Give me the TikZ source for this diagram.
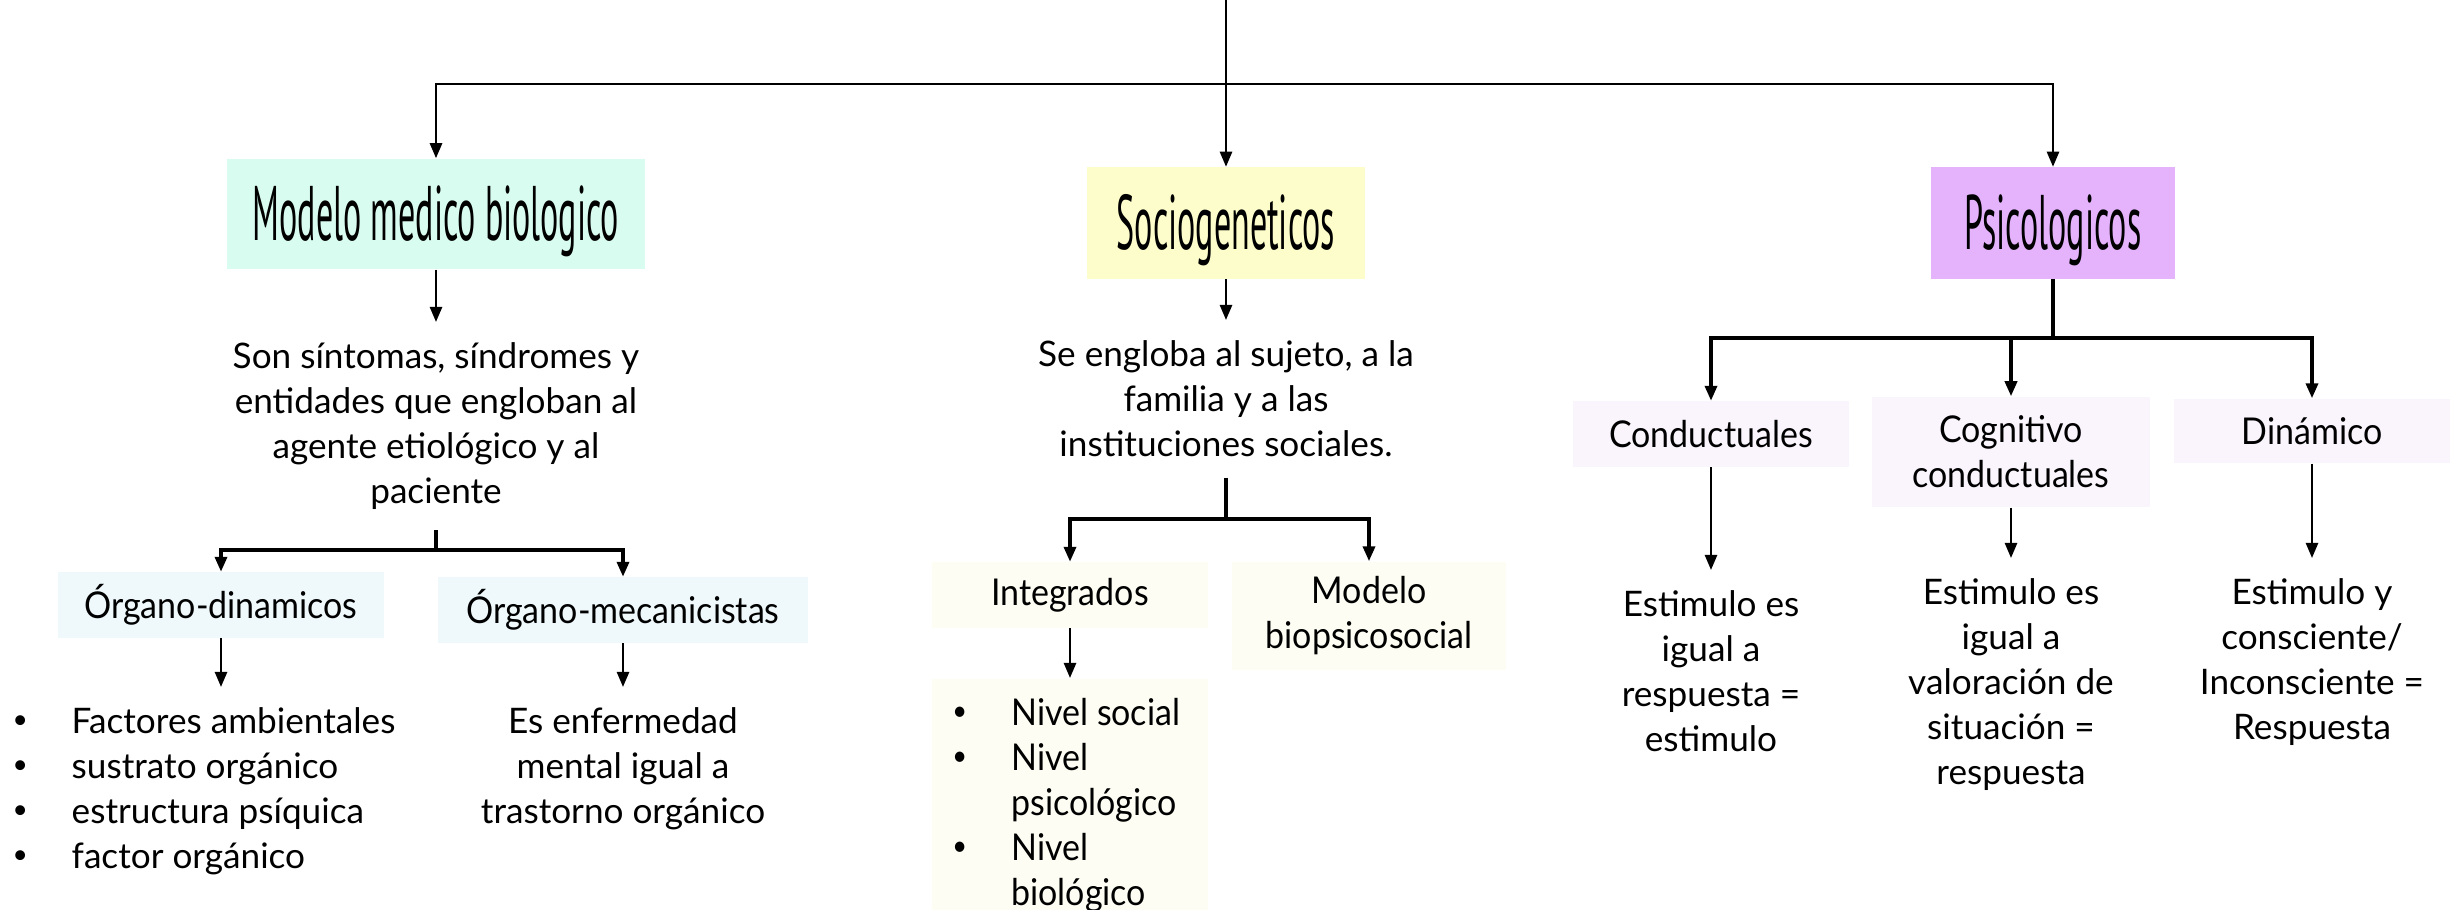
\documentclass[tikz,border=0pt]{standalone}
\usepackage{fontspec}
\setmainfont{Lato}
\newfontfamily\boxfont{Lato}[FakeStretch=0.92]
\newfontfamily\titlefont[FakeStretch=0.44]{PT Sans}
\usetikzlibrary{arrows.meta}
\definecolor{mint}{HTML}{D9FCF0}
\definecolor{lemon}{HTML}{FDFDCB}
\definecolor{lilac}{HTML}{E4B3FC}
\definecolor{ice}{HTML}{EFF9FB}
\definecolor{cream}{HTML}{FDFDF3}
\definecolor{blush}{HTML}{FAF4FD}
\newcommand{\bulletmark}{\makebox[0.51cm][l]{\raisebox{0.3ex}{\scalebox{0.75}{\textbullet}}}}

\begin{document}
\begin{tikzpicture}[x=0.01cm,y=-0.01cm,
  box/.style={inner sep=0pt,align=center,font=\boxfont\fontsize{10.5}{12.8}\selectfont},
  head/.style={inner sep=0pt,text height=0.72cm,text depth=0.2cm,font=\titlefont\fontsize{22}{24}\selectfont},
  txt/.style={anchor=north,align=center,inner xsep=0pt,inner ysep=0.2cm,font=\fontsize{10}{12.8}\selectfont},
  arr/.style={line width=0.7pt,-{Triangle[length=0.15cm,width=0.12cm]}},
  bar/.style={line width=1pt}]
\useasboundingbox (0,0) rectangle (2450,910);

\node[head,fill=mint,minimum width=4.18cm,minimum height=1.1cm] (mmb) at (436,214) {Modelo\ medico\ biologico};
\node[head,fill=lemon,minimum width=2.77cm,minimum height=1.11cm] (soc) at (1226,223) {Sociogeneticos};
\node[head,fill=lilac,minimum width=2.44cm,minimum height=1.11cm] (psi) at (2053,223) {Psicologicos};
\coordinate (top) at (1226,0);
\coordinate (hub) at (1226,84);
\draw[arr] (top) -- (soc);
\draw[arr] (hub) -| (mmb);
\draw[arr] (hub) -| (psi);

\node[txt] (mmbtxt) at (436,322) {Son síntomas, síndromes y\\entidades que engloban al\\agente etiológico y al\\paciente};
\draw[arr] (mmb) -- (mmbtxt);
\node[box,fill=ice,minimum width=3.25cm,minimum height=0.65cm] (orgdin) at (221,605) {Órgano-dinamicos};
\node[box,fill=ice,minimum width=3.7cm,minimum height=0.65cm] (orgmec) at (623,610) {Órgano-mecanicistas};
\coordinate (mmbhub) at (436,550);
\draw[bar] (mmbtxt) -- (mmbhub);
\draw[arr,bar] (mmbhub) -| (orgdin);
\draw[arr,bar] (mmbhub) -| (orgmec);
\node[txt,anchor=north west,align=left] (dinlist) at (12,687) {\makebox[0.59cm][l]{\bulletmark}Factores ambientales\\\makebox[0.59cm][l]{\bulletmark}sustrato orgánico\\\makebox[0.59cm][l]{\bulletmark}estructura psíquica\\\makebox[0.59cm][l]{\bulletmark}factor orgánico};
\draw[arr] (orgdin) -- (orgdin |- dinlist.north);
\node[txt] (mectxt) at (623,687) {Es enfermedad\\mental igual a\\trastorno orgánico};
\draw[arr] (orgmec) -- (mectxt);

\node[txt] (soctxt) at (1226,320) {Se engloba al sujeto, a la\\familia y a las\\instituciones sociales.};
\draw[arr] (soc) -- (soctxt);
\coordinate (sochub) at (1226,519);
\draw[bar] (soctxt) -- (sochub);
\node[box,fill=cream,minimum width=2.75cm,minimum height=0.65cm] (integ) at (1070,595) {Integrados};
\node[box,fill=cream,minimum width=2.74cm,minimum height=1.08cm] (biops) at (1369,616) {Modelo\\biopsicosocial};
\draw[arr,bar] (sochub) -| (integ);
\draw[arr,bar] (sochub) -| (biops);
\node[box,fill=cream,anchor=north] (nivel) at (1070,678) {\parbox[c][2.32cm][t]{2.75cm}{\vspace*{0.2cm}\raggedright
  \hspace*{0.2cm}\makebox[0.59cm][l]{\bulletmark}Nivel social\\
  \hspace*{0.2cm}\makebox[0.59cm][l]{\bulletmark}Nivel\\
  \hspace*{0.79cm}psicológico\\
  \hspace*{0.2cm}\makebox[0.59cm][l]{\bulletmark}Nivel\\
  \hspace*{0.79cm}biológico}};
\draw[arr] (integ) -- (nivel);

\coordinate (psihub) at (2053,338);
\draw[bar] (psi) -- (psihub);
\node[box,fill=blush,minimum width=2.76cm,minimum height=0.65cm] (cond) at (1711,434) {Conductuales};
\node[box,fill=blush,minimum width=2.77cm,minimum height=1.1cm] (cog) at (2011,452) {Cognitivo\\conductuales};
\node[box,fill=blush,minimum width=2.75cm,minimum height=0.64cm] (din) at (2312,431) {Dinámico};
\draw[arr,bar] (psihub) -| (cond);
\draw[arr,bar] (psihub) -| (cog);
\draw[arr,bar] (psihub) -| (din);
\node[txt] (condtxt) at (1711,570) {Estimulo es\\igual a\\respuesta =\\estimulo};
\node[txt] (cogtxt) at (2011,558) {Estimulo es\\igual a\\valoración de\\situación =\\respuesta};
\node[txt] (dintxt) at (2312,558) {Estimulo y\\consciente/\\Inconsciente =\\Respuesta};
\draw[arr] (cond) -- (condtxt);
\draw[arr] (cog) -- (cogtxt);
\draw[arr] (din) -- (dintxt);
\end{tikzpicture}
\end{document}
